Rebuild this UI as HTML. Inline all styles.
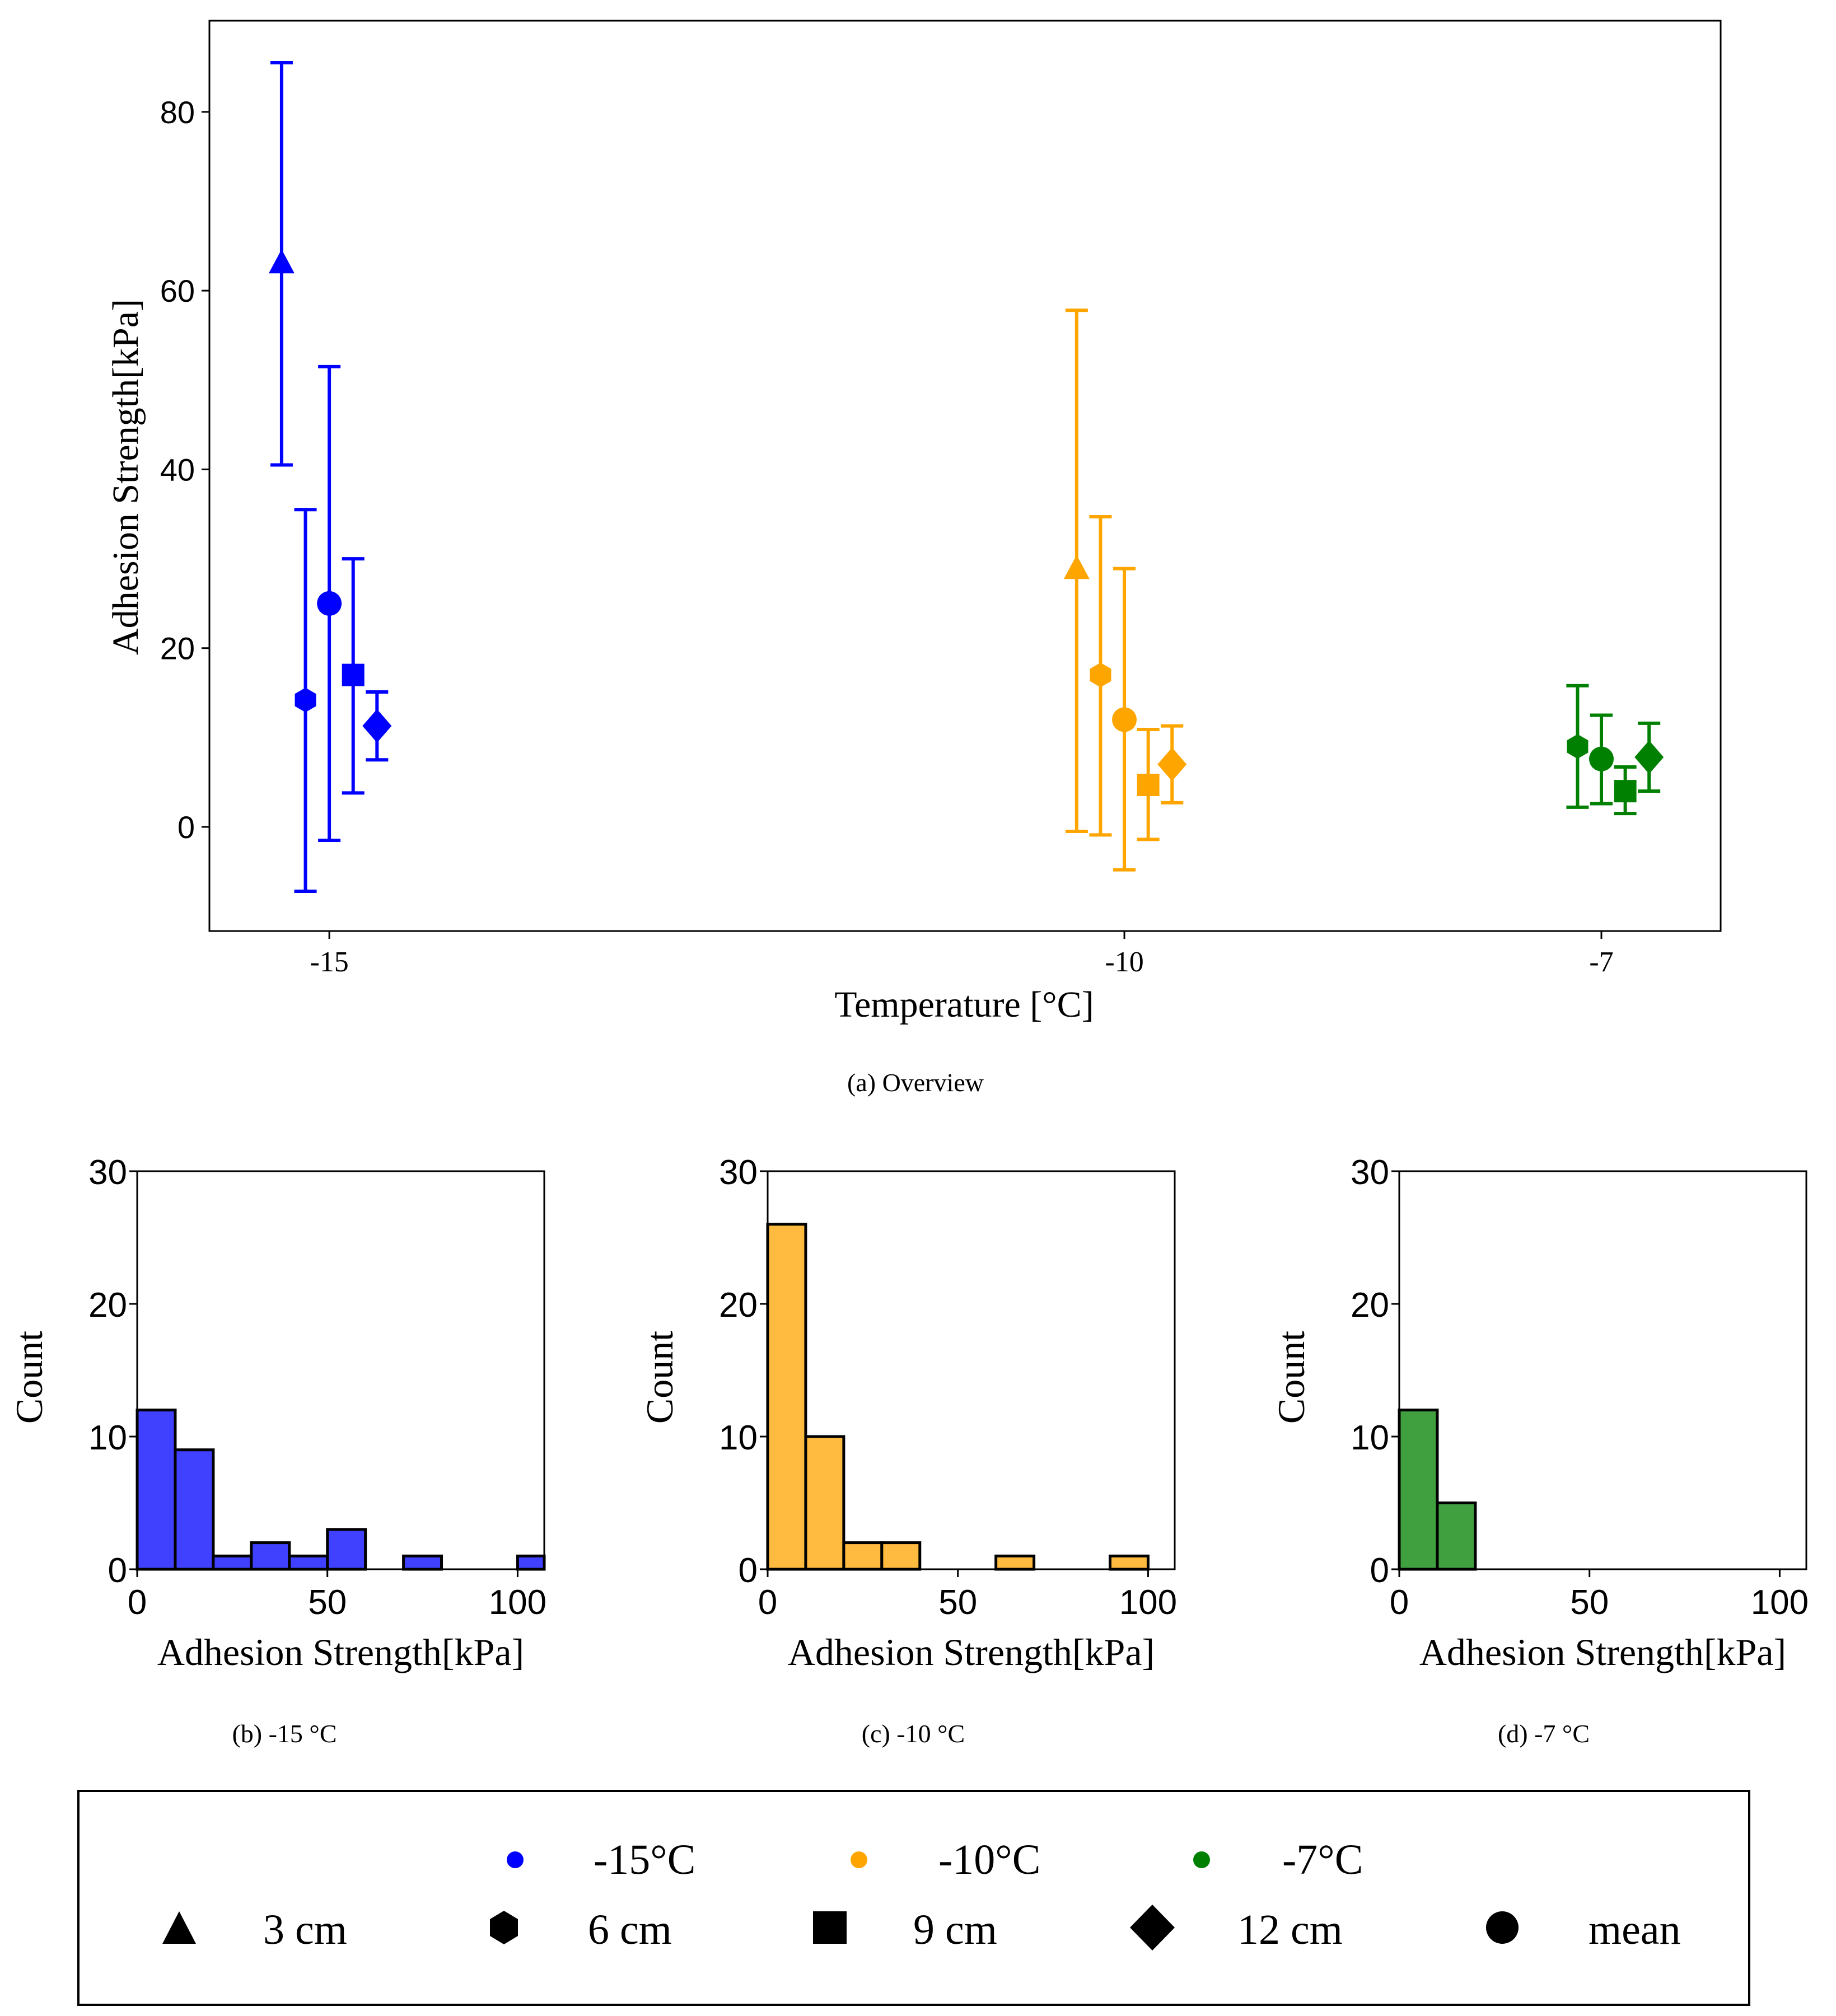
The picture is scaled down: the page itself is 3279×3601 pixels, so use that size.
<!DOCTYPE html>
<html><head><meta charset="utf-8"><style>
html,body{margin:0;padding:0;background:#fff;}
svg{display:block;}
.serif{font-family:"Liberation Serif",serif;}
.sans{font-family:"Liberation Sans",sans-serif;}
</style></head><body>
<svg id="fig" width="3279" height="3601" viewBox="0 0 3279 3601" xmlns="http://www.w3.org/2000/svg">
<rect width="3279" height="3601" fill="#fff"/>
<g id="overview"></g>
<g id="hists"></g>
<text class="serif" x="1635" y="1949" font-size="46" text-anchor="middle">(a)  Overview</text>
<text class="serif" x="508" y="3112" font-size="46" text-anchor="middle">(b)  -15 °C</text>
<text class="serif" x="1631" y="3112" font-size="46" text-anchor="middle">(c)  -10 °C</text>
<text class="serif" x="2757" y="3112" font-size="46" text-anchor="middle">(d)  -7 °C</text>
<g>
<rect x="140" y="3199" width="2984" height="382" fill="none" stroke="#000" stroke-width="4"/>
<circle cx="920" cy="3322" r="15" fill="#0000ff"/>
<text class="serif" x="1060" y="3347" font-size="76">-15°C</text>
<circle cx="1534" cy="3322" r="15" fill="#ffa500"/>
<text class="serif" x="1676" y="3347" font-size="76">-10°C</text>
<circle cx="2146" cy="3322" r="15" fill="#008000"/>
<text class="serif" x="2290" y="3347" font-size="76">-7°C</text>
<polygon points="320,3414 350,3472 290,3472" fill="#000"/>
<text class="serif" x="470" y="3472" font-size="76">3 cm</text>
<polygon points="900,3413 925,3428 925,3458 900,3473 875,3458 875,3428" fill="#000"/>
<text class="serif" x="1050" y="3472" font-size="76">6 cm</text>
<rect x="1452" y="3414" width="60" height="58" fill="#000"/>
<text class="serif" x="1631" y="3472" font-size="76">9 cm</text>
<polygon points="2058,3402 2098,3443 2058,3484 2018,3443" fill="#000"/>
<text class="serif" x="2210" y="3472" font-size="76">12 cm</text>
<circle cx="2683" cy="3443" r="29" fill="#000"/>
<text class="serif" x="2837" y="3472" font-size="76">mean</text>
</g>
</svg>
<script>
const NS="http://www.w3.org/2000/svg";
// ---- overview data ----
const temps=[-15,-10,-7];
const tempColors=["#0000ff","#ffa500","#008000"];
const markerKinds=["triangle","hexagon","circle","square","diamond"];
const markerOffsets=[-0.3,-0.15,0,0.15,0.3];
const meansM15=[63,14.2,25,17,11.3];
const lowM15=[40.5,-7.2,-1.5,3.8,7.5];
const highM15=[85.5,35.5,51.5,30,15.1];
const meansM10=[28.8,17,12,4.7,7];
const lowM10=[-0.5,-0.9,-4.8,-1.4,2.7];
const highM10=[57.8,34.7,28.9,10.9,11.3];
const meansM7=[null,9,7.6,4,7.8];
const lowM7=[null,2.2,2.6,1.5,4];
const highM7=[null,15.8,12.5,6.7,11.6];
const yTicks=[0,20,40,60,80];
const xTickLabels=["-15","-10","-7"];
// ---- histogram data ----
const binEdgesStart=[0,10,20,30,40,50,60,70,80,90,100];
const countsM15=[12,9,1,2,1,3,0,1,0,0,1];
const countsM10=[26,10,2,2,0,0,1,0,0,1,0];
const countsM7=[12,5,0,0,0,0,0,0,0,0,0];
const histYTicks=[0,10,20,30];
const histXTicks=[0,50,100];

function mk(tag,attrs,parent){const e=document.createElementNS(NS,tag);for(const k in attrs)e.setAttribute(k,attrs[k]);parent.appendChild(e);return e;}

const ov=document.getElementById('overview');
const L=374,R=3073,T=37,B=1663;
const xMin=-15.754,xMax=-6.25,yMin=-11.65,yMax=90.2;
const X=v=>L+(v-xMin)/(xMax-xMin)*(R-L);
const Y=v=>B-(v-yMin)/(yMax-yMin)*(B-T);
const frame=mk('rect',{x:L,y:T,width:R-L,height:B-T,fill:'none',stroke:'#000','stroke-width':3},ov);


yTicks.forEach(t=>{
  const l=mk('line',{x1:L-14,x2:L,y1:Y(t),y2:Y(t),stroke:'#000','stroke-width':3},ov);
  
  
  const tx=mk('text',{x:L-26,y:Y(t)+20,'font-size':56,'text-anchor':'end',class:'sans'},ov);
  
  
  tx.textContent=t;
});
temps.forEach((t,i)=>{
  const l=mk('line',{x1:X(t),x2:X(t),y1:B,y2:B+14,stroke:'#000','stroke-width':3},ov);
  
  
  const tx=mk('text',{x:X(t),y:B+72,'font-size':52,'text-anchor':'middle',class:'serif'},ov);
  
  
  tx.textContent=xTickLabels[i];
});
const yl=mk('text',{x:0,y:0,'font-size':66,'text-anchor':'middle',class:'serif',transform:'translate(246,852) rotate(-90)'},ov);


yl.textContent='Adhesion Strength[kPa]';
const xl=mk('text',{x:1722,y:1816,'font-size':66,'text-anchor':'middle',class:'serif'},ov);


xl.textContent='Temperature [°C]';

function marker(kind,cx,cy,col,parent){
  let e;
  if(kind==='triangle')e=mk('polygon',{points:`${cx},${cy-26} ${cx+23},${cy+17} ${cx-23},${cy+17}`,fill:col},parent);
  else if(kind==='hexagon')e=mk('polygon',{points:`${cx},${cy-22} ${cx+19},${cy-11} ${cx+19},${cy+11} ${cx},${cy+22} ${cx-19},${cy+11} ${cx-19},${cy-11}`,fill:col},parent);
  else if(kind==='circle')e=mk('circle',{cx:cx,cy:cy,r:22,fill:col},parent);
  else if(kind==='square')e=mk('rect',{x:cx-20,y:cy-20,width:40,height:40,fill:col},parent);
  else e=mk('polygon',{points:`${cx},${cy-30} ${cx+26},${cy} ${cx},${cy+30} ${cx-26},${cy}`,fill:col},parent);
  return e;
}
const groups=[[meansM15,lowM15,highM15],[meansM10,lowM10,highM10],[meansM7,lowM7,highM7]];
groups.forEach((g,gi)=>{
  const [m,lo,hi]=g;
  markerKinds.forEach((k,ki)=>{
    if(m[ki]==null)return;
    const cx=X(temps[gi]+markerOffsets[ki]);const col=tempColors[gi];
    const grp=mk('g',{},ov);
    
    
    mk('line',{x1:cx,x2:cx,y1:Y(lo[ki]),y2:Y(hi[ki]),stroke:col,'stroke-width':6},grp);
    mk('line',{x1:cx-20,x2:cx+20,y1:Y(lo[ki]),y2:Y(lo[ki]),stroke:col,'stroke-width':6},grp);
    mk('line',{x1:cx-20,x2:cx+20,y1:Y(hi[ki]),y2:Y(hi[ki]),stroke:col,'stroke-width':6},grp);
    marker(k,cx,Y(m[ki]),col,grp);
  });
});

const hs=document.getElementById('hists');
const histLefts=[245,1371,2499];
const histFills=["#4040ff","#ffbb40","#40a040"];
const histCounts=[countsM15,countsM10,countsM7];
const HW=727,HT=2092,HB=2803,hxMax=107,hyMax=30;
histCounts.forEach((counts,hi)=>{
  const hl=histLefts[hi];
  const HX=v=>hl+v/hxMax*HW;
  const HY=v=>HB-v/hyMax*(HB-HT);
  const g=mk('g',{},hs);
  
  
  counts.forEach((c,bi)=>{
    if(c<=0)return;
    const x0=HX(binEdgesStart[bi]);let x1=HX(binEdgesStart[bi]+10);if(x1>hl+HW)x1=hl+HW;
    const r=mk('rect',{x:x0,y:HY(c),width:x1-x0,height:HY(0)-HY(c),fill:histFills[hi],stroke:'#000','stroke-width':5},g);
    
    
  });
  const f=mk('rect',{x:hl,y:HT,width:HW,height:HB-HT,fill:'none',stroke:'#000','stroke-width':3},g);
  
  
  histYTicks.forEach(t=>{
    mk('line',{x1:hl-14,x2:hl,y1:HY(t),y2:HY(t),stroke:'#000','stroke-width':3},g);
    const tx=mk('text',{x:hl-18,y:HY(t)+23,'font-size':62,'text-anchor':'end',class:'sans'},g);
    
    
    tx.textContent=t;
  });
  histXTicks.forEach(t=>{
    mk('line',{x1:HX(t),x2:HX(t),y1:HB,y2:HB+14,stroke:'#000','stroke-width':3},g);
    const tx=mk('text',{x:HX(t),y:HB+80,'font-size':62,'text-anchor':'middle',class:'sans'},g);
    
    
    tx.textContent=t;
  });
  const xt=mk('text',{x:hl+HW/2,y:2974,'font-size':68,'text-anchor':'middle',class:'serif'},g);
  
  
  xt.textContent='Adhesion Strength[kPa]';
  const yt=mk('text',{x:0,y:0,'font-size':68,'text-anchor':'middle',class:'serif',transform:`translate(${hl-170},2460) rotate(-90)`},g);
  
  
  yt.textContent='Count';
});
</script>
</body></html>
